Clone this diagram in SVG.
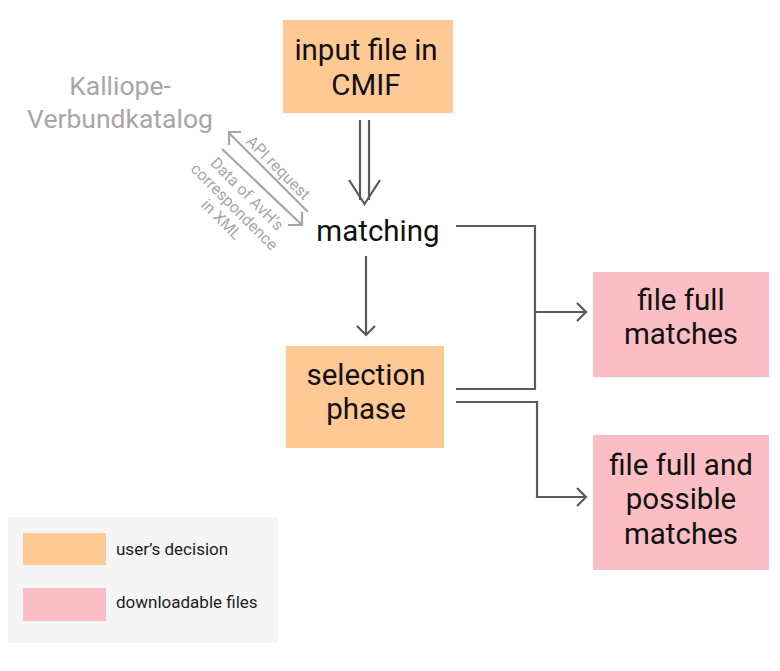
<svg xmlns="http://www.w3.org/2000/svg" width="780" height="671" viewBox="0 0 780 671">
<defs>
<style>
.node-o{fill:#FFC996;}
.node-p{fill:#FBBEC4;}
.t{font-family:Roboto,"Liberation Sans",sans-serif;font-size:29.5px;fill:#111;text-anchor:middle;}
.g{font-family:Roboto,"Liberation Sans",sans-serif;fill:#aaa6a6;}
.c{fill:none;stroke:#5a5a5a;stroke-width:2.2;}
.cg{fill:none;stroke:#aaa6a6;stroke-width:2.2;}
.leg{font-family:Roboto,"Liberation Sans",sans-serif;font-size:17px;fill:#222;}
</style>
</defs>
<rect width="780" height="671" fill="#fff"/>

<g id="connectors">
<line class="c" x1="360" y1="120" x2="360" y2="200"/>
<line class="c" x1="369" y1="120" x2="369" y2="200"/>
<polyline class="c" points="349,180 364.5,204 380,180"/>
<line class="c" x1="366" y1="256" x2="366" y2="335"/>
<polyline class="c" points="357,326 366,335 375,326"/>
<polyline class="c" points="456,226 535,226 535,389 456,389"/>
<line class="c" x1="535" y1="312" x2="586" y2="312"/>
<polyline class="c" points="577,303 586,312 577,321"/>
<polyline class="c" points="456,402 537,402 537,497 586,497"/>
<polyline class="c" points="577,488 586,497 577,506"/>
<line class="cg" x1="308" y1="212" x2="229" y2="133"/>
<polyline class="cg" points="241,132 229,132 229,145"/>
<line class="cg" x1="222" y1="149" x2="301" y2="224"/>
<polyline class="cg" points="288,225 302,225 302,212"/>
<text class="g" font-size="16" text-anchor="middle" transform="translate(278,168) rotate(45)" y="5">API request</text>
<g class="g" font-size="16" text-anchor="middle" transform="translate(234,207) rotate(45)">
<text y="-13">Data of AvH’s</text>
<text y="5">correspondence</text>
<text y="23">in XML</text>
</g>
</g>

<g id="kalliope">
<text class="g" font-size="26.5" text-anchor="middle" x="120" y="95">Kalliope-</text>
<text class="g" font-size="26.5" text-anchor="middle" x="120" y="128">Verbundkatalog</text>
</g>

<g id="input">
<rect class="node-o" x="283" y="20" width="170" height="93"/>
<text class="t" x="366" y="60">input file in</text>
<text class="t" x="366" y="95">CMIF</text>
</g>

<g id="matching">
<text class="t" x="378" y="241">matching</text>
</g>

<g id="selection">
<rect class="node-o" x="286" y="346" width="158" height="102"/>
<text class="t" x="366" y="385">selection</text>
<text class="t" x="366" y="419">phase</text>
</g>

<g id="full">
<rect class="node-p" x="593" y="272" width="176" height="105"/>
<text class="t" x="681" y="310">file full</text>
<text class="t" x="681" y="344">matches</text>
</g>

<g id="possible">
<rect class="node-p" x="593" y="435" width="176" height="135"/>
<text class="t" x="681" y="475">file full and</text>
<text class="t" x="681" y="509">possible</text>
<text class="t" x="681" y="544">matches</text>
</g>

<g id="legend">
<rect x="8" y="517" width="270" height="126" fill="#f5f5f5"/>
<rect class="node-o" x="23" y="533" width="83" height="32"/>
<rect class="node-p" x="23" y="588" width="83" height="33"/>
<text class="leg" x="116" y="555">user’s decision</text>
<text class="leg" x="116" y="608">downloadable files</text>
</g>
</svg>
